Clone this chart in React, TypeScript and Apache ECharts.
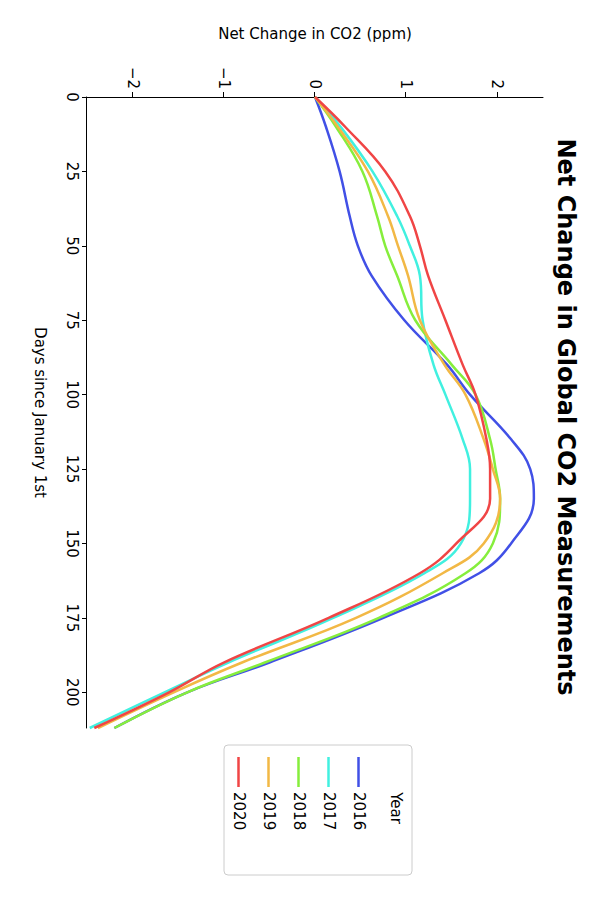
import { useEffect, useRef } from "react";
import * as echarts from "echarts";

const days = [0, 10, 25, 40, 50, 60, 75, 90, 100, 115, 125, 135, 150, 160, 175, 190, 200, 212];
const years = ["2016", "2017", "2018", "2019", "2020"];
const colors = ["#4150e6", "#41f0e0", "#86ee3c", "#f2b845", "#f04545"];
const co2By2016 = [0, 0.12, 0.27, 0.38, 0.47, 0.62, 0.98, 1.45, 1.7, 2.15, 2.36, 2.4, 2.15, 1.8, 0.75, -0.5, -1.4, -2.2];
const co2By2017 = [0, 0.28, 0.63, 0.9, 1.04, 1.15, 1.18, 1.3, 1.43, 1.62, 1.7, 1.7, 1.6, 1.2, 0.2, -0.95, -1.65, -2.47];
const co2By2018 = [0, 0.23, 0.52, 0.68, 0.77, 0.9, 1.1, 1.5, 1.76, 1.92, 1.98, 2.03, 1.95, 1.65, 0.7, -0.55, -1.4, -2.2];
const co2By2019 = [0, 0.25, 0.58, 0.8, 0.91, 1.02, 1.15, 1.42, 1.65, 1.85, 1.95, 2.03, 1.85, 1.4, 0.45, -0.8, -1.55, -2.38];
const co2By2020 = [0, 0.33, 0.77, 1.04, 1.15, 1.24, 1.43, 1.62, 1.76, 1.88, 1.92, 1.92, 1.55, 1.15, 0.15, -1.0, -1.6, -2.42];
const seriesValues = [co2By2016, co2By2017, co2By2018, co2By2019, co2By2020];
const valueTicks = [-2, -1, 0, 1, 2];

const FONT = "DejaVu Sans";

export default function App() {
  const ref = useRef<HTMLDivElement>(null);

  useEffect(() => {
    if (!ref.current) return;
    const chart = echarts.init(ref.current, null, { renderer: "svg" });
    const axisCommon = {
      axisLine: { show: true, onZero: false, lineStyle: { color: "#000", width: 1 } },
      axisTick: { show: true, inside: false, length: 5, lineStyle: { color: "#000" } },
      axisLabel: { color: "#000", fontSize: 15, fontFamily: FONT },
      splitLine: { show: false },
      nameTextStyle: { color: "#000", fontSize: 15, fontFamily: FONT },
    };
    chart.setOption({
      animation: false,
      title: {
        text: "Net Change in Global CO2 Measurements",
        left: 412,
        top: 17,
        textAlign: "center",
        textStyle: { fontSize: 24, fontWeight: "bold", fontFamily: FONT, color: "#000" },
      },
      grid: { left: 97, right: 172, top: 57, bottom: 87 },
      xAxis: {
        type: "value",
        min: 0,
        max: 212,
        interval: 25,
        name: "Days since January 1st",
        nameLocation: "middle",
        nameGap: 40,
        ...axisCommon,
        axisLabel: { ...axisCommon.axisLabel, showMaxLabel: false },
      },
      yAxis: {
        type: "value",
        min: -2.5,
        max: 2.5,
        name: "Net Change in CO2 (ppm)",
        nameLocation: "middle",
        nameGap: 56,
        ...axisCommon,
        axisTick: { ...axisCommon.axisTick, customValues: valueTicks },
        axisLabel: {
          ...axisCommon.axisLabel,
          customValues: valueTicks,
          formatter: (v: number) => String(v).replace("-", "\u2212"),
        },
      },
      legend: {
        orient: "vertical",
        left: 752,
        top: 228,
        icon: "rect",
        itemWidth: 30,
        itemHeight: 2.5,
        itemGap: 13,
        textStyle: { fontSize: 15, fontFamily: FONT, color: "#000", lineHeight: 17 },
        data: years,
      },
      graphic: [
        {
          type: "rect",
          shape: { x: 745, y: 188, width: 130, height: 188, r: 4 },
          style: { fill: "#fff", stroke: "#ccc", lineWidth: 1 },
          z: -1,
        },
        {
          type: "text",
          x: 808,
          y: 197,
          style: { text: "Year", fontSize: 15, fontFamily: FONT, fill: "#000", align: "center" },
        },
      ],
      series: years.map((y, i) => ({
        name: y,
        type: "line",
        smooth: 0.4,
        symbol: "none",
        color: colors[i],
        lineStyle: { width: 2.5, color: colors[i] },
        data: days.map((d, j) => [d, seriesValues[i][j]]),
      })),
    });
    return () => chart.dispose();
  }, []);

  return (
    <div style={{ position: "fixed", left: 0, top: 0, width: 600, height: 900, background: "#fff" }}>
      <div
        ref={ref}
        style={{
          position: "absolute",
          left: 0,
          top: 0,
          width: 900,
          height: 600,
          transformOrigin: "0 0",
          transform: "translate(600px, 0) rotate(90deg)",
        }}
      />
    </div>
  );
}
